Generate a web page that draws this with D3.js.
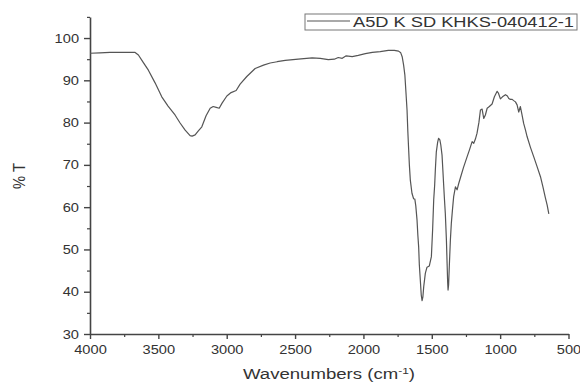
<!DOCTYPE html>
<html>
<head>
<meta charset="utf-8">
<script src="https://cdn.jsdelivr.net/npm/d3@7"></script>
<style>
  html, body { margin: 0; padding: 0; background: #fff; }
  svg { display: block; font-family: "Liberation Sans", Arial, sans-serif; }
</style>
</head>
<body>
<svg id="chart" width="580" height="383"></svg>
<script>
// IR transmittance spectrum, wavenumber (cm-1) vs %T
const wavenumber = [
  4000, 3927, 3854, 3780, 3707, 3670, 3646, 3612, 3573, 3524,
  3475, 3429, 3378, 3341, 3304, 3268, 3253, 3231, 3209, 3182,
  3151, 3121, 3099, 3077, 3055, 3034, 2999, 2968, 2931, 2902,
  2853, 2792, 2731, 2682, 2631, 2572, 2477, 2375, 2316, 2257,
  2213, 2184, 2155, 2126, 2082, 2038, 1986, 1935, 1877, 1818,
  1774, 1743, 1727, 1716, 1706, 1697, 1690, 1681, 1675, 1669,
  1664, 1657, 1645, 1633, 1624, 1617, 1608, 1602, 1596, 1591,
  1584, 1577, 1571, 1565, 1559, 1547, 1535, 1518, 1503, 1494,
  1486, 1479, 1474, 1467, 1457, 1450, 1441, 1434, 1425, 1419,
  1413, 1407, 1401, 1393, 1388, 1384, 1381, 1377, 1371, 1364,
  1357, 1349, 1340, 1327, 1315, 1303, 1291, 1269, 1242, 1225,
  1205, 1193, 1181, 1169, 1155, 1144, 1132, 1120, 1108, 1095,
  1079, 1059, 1042, 1022, 1013, 998, 983, 961, 947, 937,
  925, 912, 901, 888, 876, 864, 852, 841, 828, 815,
  803, 779, 754, 731, 705, 687, 669, 656, 644
];
const transmittance = [
  96.4, 96.5, 96.6, 96.6, 96.6, 96.6, 96.0, 94.3, 92.4, 89.4,
  86.1, 83.9, 81.8, 79.9, 78.2, 76.9, 76.8, 77.1, 78.0, 79.0,
  81.6, 83.4, 83.8, 83.6, 83.4, 84.6, 86.3, 87.1, 87.6, 89.1,
  90.9, 92.8, 93.6, 94.1, 94.4, 94.7, 95.0, 95.3, 95.2, 94.9,
  95.0, 95.4, 95.2, 95.8, 95.6, 95.9, 96.3, 96.6, 96.8, 97.1,
  97.1, 96.9, 96.5, 95.5, 93.6, 91.3, 87.7, 83.0, 77.8, 73.5,
  70.0, 66.4, 63.3, 62.0, 61.9, 60.3, 57.0, 53.4, 50.6, 46.3,
  42.8, 39.2, 37.9, 38.8, 41.2, 44.4, 45.8, 46.1, 48.3, 54.6,
  61.7, 65.2, 68.8, 73.0, 75.4, 76.3, 75.9, 74.7, 72.3, 68.8,
  65.2, 61.7, 58.5, 52.2, 46.7, 42.3, 40.4, 41.6, 46.7, 52.2,
  56.2, 59.3, 62.5, 64.8, 64.1, 65.6, 66.9, 69.3, 71.9, 73.5,
  75.5, 75.1, 76.1, 77.5, 80.1, 83.0, 83.2, 81.0, 81.8, 83.4,
  83.8, 84.4, 86.1, 87.4, 87.0, 85.6, 86.1, 86.6, 86.3, 85.7,
  85.5, 85.5, 85.2, 84.9, 84.2, 82.5, 83.8, 82.0, 79.8, 78.3,
  76.7, 74.2, 71.9, 69.7, 67.2, 64.8, 62.2, 60.5, 58.4
];

const xMajor = [4000, 3500, 3000, 2500, 2000, 1500, 1000, 500];
const xMinor = [3750, 3250, 2750, 2250, 1750, 1250, 750];
const yMajor = [30, 40, 50, 60, 70, 80, 90, 100];
const yMinor = [35, 45, 55, 65, 75, 85, 95, 105];
const seriesName = "A5D K SD KHKS-040412-1";

const svg = d3.select("#chart");
const x = d3.scaleLinear().domain([4000, 500]).range([90, 568.5]);
const y = d3.scaleLinear().domain([30, 105]).range([334, 16.9]);

const axisColor = "#444";
const textColor = "#333";
const stretch = 1.17;

// widen glyphs horizontally
function widen(sel, k) {
  sel.each(function () {
    const w = this.getComputedTextLength();
    d3.select(this).attr("textLength", w * k).attr("lengthAdjust", "spacingAndGlyphs");
  });
}

function styleAxis(g) {
  g.select(".domain").attr("stroke", axisColor).attr("stroke-width", 1.6);
  g.selectAll(".tick line").attr("stroke", axisColor).attr("stroke-width", 1.4);
  g.selectAll(".tick text").attr("fill", textColor)
    .style("font-size", "12.5px");
}

// minor ticks
svg.append("g")
  .attr("transform", "translate(0,334)")
  .call(d3.axisBottom(x).tickValues(xMinor).tickSize(3).tickFormat(""))
  .call(g => g.select(".domain").remove())
  .call(g => g.selectAll(".tick line").attr("stroke", axisColor).attr("stroke-width", 1.2));
svg.append("g")
  .attr("transform", "translate(90,0)")
  .call(d3.axisLeft(y).tickValues(yMinor).tickSize(3).tickFormat(""))
  .call(g => g.select(".domain").remove())
  .call(g => g.selectAll(".tick line").attr("stroke", axisColor).attr("stroke-width", 1.2));

// major axes
const gx = svg.append("g")
  .attr("transform", "translate(0,334)")
  .call(d3.axisBottom(x).tickValues(xMajor).tickSize(5).tickSizeOuter(0).tickPadding(6).tickFormat(d3.format("d")))
  .call(styleAxis);
gx.selectAll(".tick text").call(widen, stretch);

const gy = svg.append("g")
  .attr("transform", "translate(90,0)")
  .call(d3.axisLeft(y).tickValues(yMajor).tickSize(6).tickSizeOuter(0).tickPadding(5).tickFormat(d3.format("d")))
  .call(styleAxis);
gy.selectAll(".tick text").call(widen, stretch);

// spectrum trace
const points = wavenumber.map((w, i) => [w, transmittance[i]]);
svg.append("path")
  .datum(points)
  .attr("fill", "none")
  .attr("stroke", "#555")
  .attr("stroke-width", 1.2)
  .attr("stroke-linejoin", "round")
  .attr("d", d3.line().x(d => x(d[0])).y(d => y(d[1])).curve(d3.curveLinear));

// axis titles
const xt = svg.append("text")
  .attr("x", 329).attr("y", 379)
  .attr("text-anchor", "middle")
  .attr("fill", textColor)
  .style("font-size", "14px");
xt.append("tspan").text("Wavenumbers (cm");
xt.append("tspan").attr("dy", -5).style("font-size", "9px").text("-1");
xt.append("tspan").attr("dy", 5).text(")");
xt.attr("textLength", 172).attr("lengthAdjust", "spacingAndGlyphs");

svg.append("text")
  .attr("transform", "translate(25,176) rotate(-90)")
  .attr("text-anchor", "middle")
  .attr("fill", textColor)
  .style("font-size", "16px")
  .attr("textLength", 26)
  .attr("lengthAdjust", "spacingAndGlyphs")
  .text("% T");

// legend
const lg = svg.append("g");
lg.append("rect")
  .attr("x", 305).attr("y", 14)
  .attr("width", 272).attr("height", 16)
  .attr("fill", "#fff")
  .attr("stroke", "#777").attr("stroke-width", 1);
lg.append("line")
  .attr("x1", 307).attr("x2", 350)
  .attr("y1", 21).attr("y2", 21)
  .attr("stroke", "#555").attr("stroke-width", 1.2);
lg.append("text")
  .attr("x", 353).attr("y", 26.5)
  .attr("fill", textColor)
  .style("font-size", "15.5px")
  .attr("textLength", 221)
  .attr("lengthAdjust", "spacingAndGlyphs")
  .text(seriesName);
</script>
</body>
</html>
